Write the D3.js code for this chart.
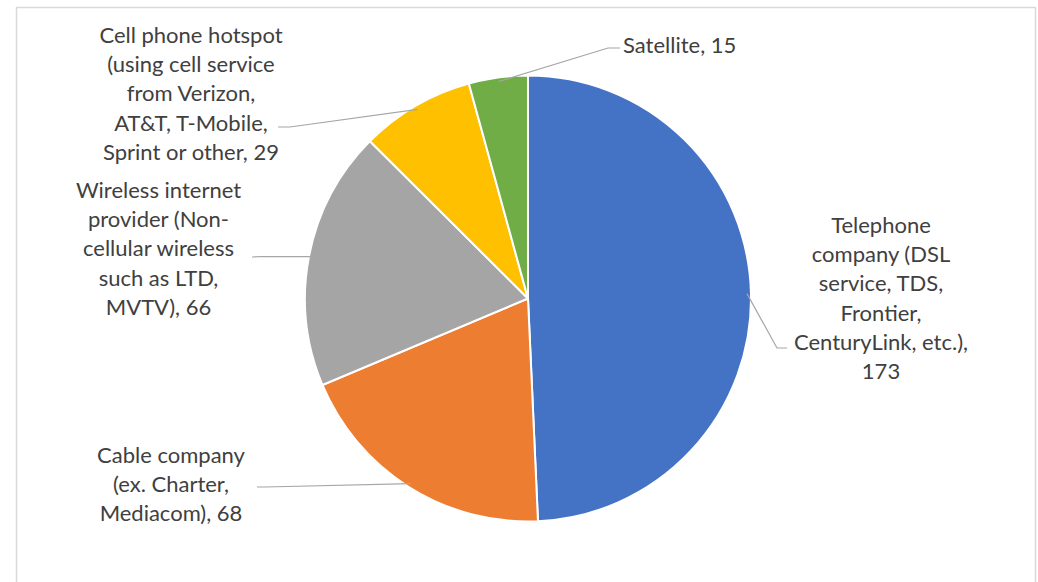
<!DOCTYPE html>
<html><head><meta charset="utf-8">
<script src="https://cdn.jsdelivr.net/npm/d3@7"></script>
<style>
html,body{margin:0;padding:0;background:#fff;}
svg{display:block;}
text{font-family:Lato,"Open Sans",sans-serif;fill:#404040;}
</style></head>
<body>
<script>
// ---- data ----
const categories = ["Telephone", "Cable", "Wireless", "Cell", "Satellite"];
const values = [173, 68, 66, 29, 15];
const labelLines = [
  ["Telephone", "company (DSL", "service, TDS,", "Frontier,", "CenturyLink, etc.),", "173"],
  ["Cable company", "(ex. Charter,", "Mediacom), 68"],
  ["Wireless internet", "provider (Non-", "cellular wireless", "such as LTD,", "MVTV), 66"],
  ["Cell phone hotspot", "(using cell service", "from Verizon,", "AT&T, T-Mobile,", "Sprint or other, 29"],
  ["Satellite, 15"]
];
const colors = ["#4472C4", "#ED7D31", "#A5A5A5", "#FFC000", "#70AD47"];

// ---- layout ----
const W = 1038, H = 582;
const cx = 528, cy = 298.5, R = 223;
const fontSize = 22, lineH = 29.3;
// label block: center x, first line center y, anchor; leader: elbow point and end point
const labelLayout = [
  {x: 881, y: 225, anchor: "middle", elbow: [777, 348], end: [787, 348]},
  {x: 171, y: 455, anchor: "middle", elbow: [265, 487], end: [257, 487]},
  {x: 158.5, y: 190, anchor: "middle", elbow: [262, 256.5], end: [252, 257]},
  {x: 191, y: 35, anchor: "middle", elbow: [290, 127], end: [278, 127]},
  {x: 623, y: 45, anchor: "start", elbow: [608, 48], end: [620, 48]}
];

const svg = d3.select("body").append("svg").attr("width", W).attr("height", H);

// chart border
svg.append("rect").attr("x", 16.5).attr("y", 7.5).attr("width", 1019).attr("height", 600)
  .attr("fill", "none").attr("stroke", "#d9d9d9").attr("stroke-width", 1.5);

const data = categories.map((c, i) => ({cat: c, value: values[i], i}));
const pie = d3.pie().value(d => d.value).sort(null);
const arcs = pie(data);
const arc = d3.arc().innerRadius(0).outerRadius(R);

const g = svg.append("g").attr("transform", `translate(${cx},${cy})`);
g.selectAll("path.slice").data(arcs).join("path")
  .attr("class", "slice")
  .attr("d", arc)
  .attr("fill", d => colors[d.data.i])
  .attr("stroke", "#fff").attr("stroke-width", 2).attr("stroke-linejoin", "round");

// leader lines
const edgeArc = d3.arc().innerRadius(R - 4).outerRadius(R - 4);
arcs.forEach(d => {
  const L = labelLayout[d.data.i];
  const c = edgeArc.centroid(d);
  const p0 = [cx + c[0], cy + c[1]];
  svg.append("polyline")
    .attr("points", [p0, L.elbow, L.end].map(p => p.join(",")).join(" "))
    .attr("fill", "none").attr("stroke", "#a6a6a6").attr("stroke-width", 1.2);
});

// labels
arcs.forEach(d => {
  const L = labelLayout[d.data.i];
  const t = svg.append("text").attr("text-anchor", L.anchor).style("font-size", fontSize + "px");
  labelLines[d.data.i].forEach((s, k) => {
    t.append("tspan").attr("x", L.x).attr("y", L.y + k * lineH + fontSize * 0.35).text(s);
  });
});
</script>
</body></html>
